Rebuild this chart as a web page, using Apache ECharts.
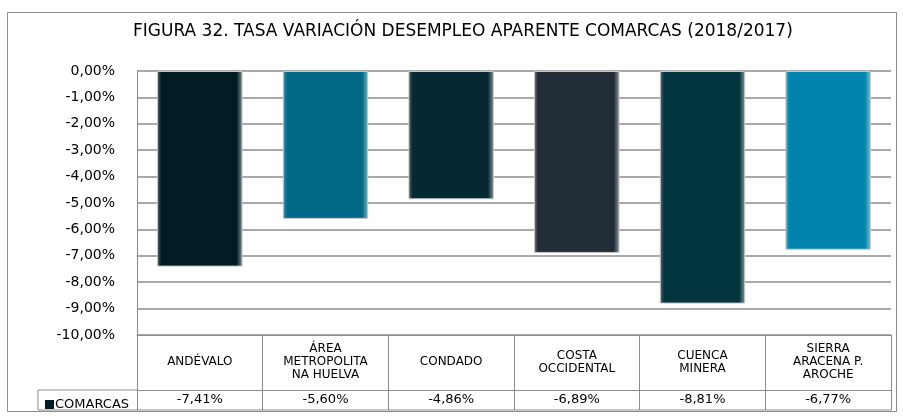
<!DOCTYPE html>
<html style="height: 100%">
<head>
<meta charset="utf-8">
<script src="https://cdn.jsdelivr.net/npm/echarts@6/dist/echarts.min.js"></script>
<title>Figura 32</title>
</head>
<body style="height: 100%; margin: 0; background: #fff">
<div id="container" style="width: 903px; height: 419px"></div>
<script type="text/javascript">

let comarcas = ['ANDÉVALO', 'ÁREA\nMETROPOLITA\nNA HUELVA', 'CONDADO', 'COSTA\nOCCIDENTAL', 'CUENCA\nMINERA', 'SIERRA\nARACENA P.\nAROCHE'];
let tasas = [-7.41, -5.60, -4.86, -6.89, -8.81, -6.77];
let colores = ['#011d23', '#026a87', '#072833', '#212c37', '#03353f', '#0084ae'];

let pct = v => v.toFixed(2).replace('.', ',') + '%';
let fuente = '"DejaVu Sans", sans-serif';
let gris = '#8c8c8c';

let chart = echarts.init(document.getElementById('container'));
chart.setOption({
    animation: false,
    title: {
        text: 'FIGURA 32. TASA VARIACIÓN DESEMPLEO APARENTE COMARCAS (2018/2017)',
        left: 128,
        top: 18,
        textStyle: { fontFamily: fuente, fontSize: 17, fontWeight: 'normal', color: '#000' }
    },
    legend: {
        left: 40,
        top: 393,
        itemWidth: 9,
        itemHeight: 9,
        itemGap: 0,
        icon: 'rect',
        textStyle: { fontFamily: fuente, fontSize: 13, color: '#000', padding: [0, 0, 0, -4] },
        data: ['COMARCAS']
    },
    grid: { left: 137, right: 12, top: 71, bottom: 84 },
    xAxis: [
        {
            type: 'category',
            data: comarcas,
            position: 'bottom',
            axisLine: { show: true, onZero: false, lineStyle: { color: gris } },
            axisTick: { show: true, interval: 0, length: 75, lineStyle: { color: gris } },
            axisLabel: {
                interval: 0, margin: 27, verticalAlign: 'middle', lineHeight: 13,
                fontFamily: fuente, fontSize: 12, color: '#000'
            }
        },
        {
            type: 'category',
            data: tasas.map(pct),
            position: 'bottom',
            offset: 55,
            axisLine: { show: true, onZero: false, lineStyle: { color: gris } },
            axisTick: { show: false },
            axisLabel: {
                interval: 0, margin: 10, verticalAlign: 'middle',
                fontFamily: fuente, fontSize: 13, color: '#000'
            }
        }
    ],
    yAxis: {
        type: 'value',
        min: -10,
        max: 0,
        interval: 1,
        axisLine: { show: true, lineStyle: { color: gris } },
        axisTick: { show: false },
        splitLine: { lineStyle: { color: gris, width: 1.5 } },
        axisLabel: { formatter: pct, margin: 22, fontFamily: fuente, fontSize: 14, color: '#000' }
    },
    series: [{
        name: 'COMARCAS',
        type: 'bar',
        barWidth: '68%',
        itemStyle: { color: '#011d23' },
        data: tasas.map((v, i) => ({
            value: v,
            itemStyle: {
                // echarts.color.lift: positive level darkens
                color: new echarts.graphic.LinearGradient(0, 0, 1, 0, [
                    { offset: 0, color: echarts.color.lift(colores[i], 0.3) },
                    { offset: 0.05, color: colores[i] },
                    { offset: 0.93, color: colores[i] },
                    { offset: 1, color: echarts.color.lift(colores[i], 0.5) }
                ]),
                borderColor: '#c8c8c8',
                borderWidth: 1
            }
        }))
    }],
    graphic: [
        { type: 'rect', shape: { x: 7.5, y: 12.5, width: 889, height: 399 }, style: { fill: null, stroke: gris, lineWidth: 1 } },
        { type: 'polyline', shape: { points: [[137, 390], [38, 390], [38, 410], [891, 410]] }, style: { fill: null, stroke: gris, lineWidth: 1 } }
    ]
});
</script>
</body>
</html>
